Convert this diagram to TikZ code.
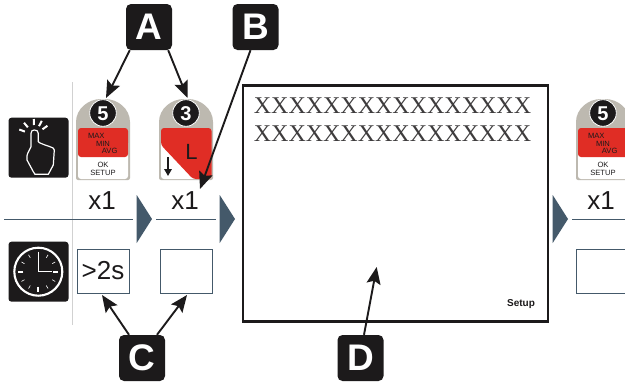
\documentclass[tikz,border=0pt]{standalone}
\usepackage{fontspec}
\setmainfont{Liberation Sans}
\newfontfamily\serifx{Liberation Serif}
\usetikzlibrary{arrows.meta,calc}
\definecolor{slate}{HTML}{44596A}
\definecolor{ink}{HTML}{1C1A1B}
\definecolor{keygrey}{HTML}{BDB9B0}
\definecolor{keyred}{HTML}{E02D25}
\tikzset{
  fs/.style={font=\fontsize{#1}{#1}\selectfont},
  tag/.style={fill=ink,rounded corners=5pt,minimum width=46pt,minimum height=46pt,inner sep=0pt,text=white,font=\fontsize{37}{37}\selectfont\bfseries},
  callout/.style={draw=ink,line width=1.9pt,-{Stealth[length=17pt,width=14pt,inset=3pt]},shorten >=0pt},
  tbox/.style={draw=slate,line width=1pt,fill=white,minimum width=52pt,minimum height=44pt,inner sep=0pt},
  sep/.style={draw=slate,line width=1pt},
  tri/.style={fill=slate,draw=none},
  plain/.style={inner sep=0pt,outer sep=0pt},
  iconbox/.style={fill=ink,rounded corners=3pt,minimum width=60pt,minimum height=60pt,inner sep=0pt},
  wl/.style={draw=white,line cap=round,line join=round},
}
\newcommand{\keybody}[2]{%
  \fill[keygrey,rounded corners=2pt] (#1-27,180) -- (#1-27,124) .. controls (#1-27,109) and (#1-15,99) .. (#1,99) .. controls (#1+15,99) and (#1+27,109) .. (#1+27,124) -- (#1+27,180) -- cycle;
  \draw[white,fill=ink,line width=.8pt] (#1,113) circle (13.3);
  \node[plain,text=white,font=\fontsize{20}{20}\selectfont\bfseries] at (#1,113.5) {#2};
}
\newcommand{\keyfive}[1]{%
  \keybody{#1}{5}
  \fill[white,rounded corners=3pt] (#1-25,140) rectangle (#1+25,179);
  \fill[keyred,rounded corners=3pt] (#1-25,157) -- (#1-25,128) -- (#1+25,128) -- (#1+25,157) -- cycle;
  \node[plain,fs=7.6,text=ink] at (#1-6.7,136) {MAX};
  \node[plain,fs=7.6,text=ink] at (#1,143.5) {MIN};
  \node[plain,fs=7.6,text=ink] at (#1+6.7,151) {AVG};
  \node[plain,fs=7.6,text=ink] at (#1,165) {OK};
  \node[plain,fs=7.6,text=ink] at (#1,173) {SETUP};
}
\begin{document}
\begin{tikzpicture}[x=1pt,y=-1pt]
\useasboundingbox (0,0) rectangle (625,383);
\clip (0,0) rectangle (625,383);
\fill[white] (0,0) rectangle (625,383);
% grid lines
\draw[black!18,line width=.8pt] (72.5,82) -- (72.5,325);
\draw[sep] (4,219) -- (133,219);
\draw[sep] (156,219) -- (216,219);
\draw[sep] (572,219) -- (625,219);
\fill[tri] (136.7,195) -- (152,219) -- (136.7,243) -- cycle;
\fill[tri] (219.7,195) -- (235,219) -- (219.7,243) -- cycle;
\fill[tri] (552.7,195) -- (568,219) -- (552.7,243) -- cycle;
% hand icon
\node[iconbox] (hand) at (38.5,147.7) {};
\draw[wl,line width=1.2pt] (31,133.3) .. controls (31,131) and (32.5,130) .. (34.3,130) .. controls (36.5,130) and (38.3,131) .. (38.3,133.3) -- (38.3,141.7) -- (40,143) -- (45,145) -- (50,146.7) .. controls (53,147.5) and (54.3,148.5) .. (54.3,150) -- (53.3,165) -- (48.3,174.3) -- (35,174.3) -- (33.3,171.7) -- (27,160) .. controls (26.5,157) and (27,155) .. (27.7,153.3) -- (31,146.7) -- cycle;
\foreach \a in {-160,-130,-92,-62,-35}
  \draw[white,line width=2pt] ($(34.3,135)+(\a:10)$) -- ($(34.3,135)+(\a:16)$);
% clock icon
\node[iconbox] (clock) at (38.5,271.7) {};
\draw[white,line width=2.1pt] (38.3,271.7) circle (24);
\draw[white,line width=.8pt] (38.3,251.5) -- (38.3,271.7) -- (51.5,271.7);
\foreach \a in {30,60,120,150,210,240,300,330}
  \draw[white,line width=.6pt] ($(38.3,271.7)+(\a:16)$) -- ($(38.3,271.7)+(\a:19.5)$);
\foreach \a in {0,90,180}
  \draw[white,line width=1.7pt] ($(38.3,271.7)+(\a:15)$) -- ($(38.3,271.7)+(\a:20)$);
% keys
\keyfive{103}
\keyfive{603}
\keybody{186}{3}
\fill[white,rounded corners=3pt] (161,140) rectangle (211,179);
\fill[keyred,rounded corners=3pt] (161,145) -- (161,128) -- (211.5,128) -- (211.5,179) -- (193,179) -- cycle;
\node[plain,fs=22,text=ink] at (191.5,152) {L};
\draw[ink,line width=1.5pt,-{Stealth[length=7pt,width=7.5pt,inset=0pt]}] (168,157) -- (168,176);
\coordinate (top5) at (106,98);
\coordinate (top3) at (187.5,98);
% x1 labels
\node[plain,fs=26,text=ink] (xa) at (102,200.5) {x1};
\node[plain,fs=26,text=ink] (xb) at (185,200.5) {x1};
\node[plain,fs=26,text=ink] (xc) at (601,200.5) {x1};
\coordinate (tipb) at (200,189);
% time boxes
\node[tbox,fs=26,text=ink] (t1) at (103,271) {>2s};
\node[tbox] (t2) at (186,271) {};
\node[tbox] (t3) at (602,271) {};
\coordinate (tipc1) at (102,295);
\coordinate (tipc2) at (187,295);
% screen
\node[draw=ink,line width=2.5pt,fill=white,minimum width=305pt,minimum height=236pt,inner sep=0pt] (screen) at (395.7,203.3) {};
\node[plain,fs=24,text=ink!85] (r1) at (392.5,106) {\serifx XXXXXXXXXXXXXXXX};
\node[plain,fs=24,text=ink!85] (r2) at (392.5,134) {\serifx XXXXXXXXXXXXXXXX};
\node[plain,text=ink,font=\fontsize{10}{10}\selectfont\bfseries] (setup) at (521,304) {Setup};
\coordinate (tipd) at (376.7,267);
% tags
\node[tag] (A) at (149,27) {A};
\node[tag] (B) at (255.5,27) {B};
\node[tag] (C) at (142,358) {C};
\node[tag] (D) at (360.5,358) {D};
% callouts
\draw[callout] ([xshift=4pt]A.south west) -- (top5);
\draw[callout] ([xshift=-4pt]A.south east) -- (top3);
\draw[callout] ([xshift=-5pt]B.south) -- (tipb);
\draw[callout] ([xshift=-13pt]C.north) -- (tipc1);
\draw[callout] ([xshift=15pt]C.north) -- (tipc2);
\draw[callout] ([xshift=3.5pt]D.north) -- (tipd);
\end{tikzpicture}
\end{document}
